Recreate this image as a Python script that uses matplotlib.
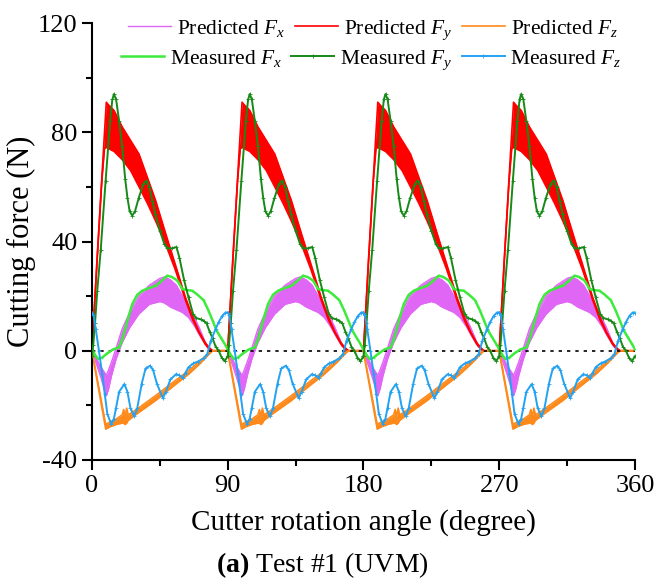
import numpy as np
import matplotlib
matplotlib.use("Agg")
import matplotlib.pyplot as plt

# ============================================
# DATA (one tooth period, 0-90 deg, repeated for 4 teeth)
# ============================================

teeth_offsets = [0, 90, 180, 270]

# Predicted Fx band (upper / lower envelope)
pfx_theta = [0, 3, 6, 9.5, 11, 13, 16, 20, 25, 31, 38, 45, 48, 52, 56, 60, 64, 68, 71, 76, 79, 90]
pfx_upper = [0, -3, -6, -9, -7, -4, 1, 8, 14, 20, 24, 26.5, 27, 26, 24, 20, 16, 12, 8.6, 2, 0, 0]
pfx_lower = [0, -5, -10, -16.5, -14, -9, -3, 3, 8.5, 13.4, 17, 18, 17.5, 16, 15, 14, 12.2, 9, 6, 1.5, 0, 0]

# Predicted Fy band
pfy_theta = [0, 3.5, 6.5, 8.3, 9.5, 11, 14.6, 20, 25.6, 31.2, 36.7, 42.2, 48.8, 55, 62, 67, 71, 75, 78, 80, 90]
pfy_upper = [0, 35, 63, 80, 91, 90, 88, 82, 77, 72, 63.5, 55, 43, 32, 19.5, 12, 7, 3, 1, 0, 0]
pfy_lower = [0, 34, 62, 74, 74.5, 74, 73, 70, 66, 60, 54, 47.5, 39, 30, 18.5, 11, 6.5, 2.5, 0.5, 0, 0]

# Predicted Fz band
pfz_theta = [0, 9.1, 12, 16, 20, 21, 22, 23, 24, 30, 42, 55, 64, 72, 78, 80, 90]
pfz_upper = [0, -27, -26, -25, -23.5, -21.5, -24, -21, -23.5, -21.3, -16.5, -11, -7.3, -3.5, -0.5, 0, 0]
pfz_lower = [-0.5, -28.7, -27.8, -27, -26.5, -26.5, -27, -26.5, -25.5, -23, -18.3, -12.5, -8.6, -4.5, -1, 0, 0]

# Measured Fx
mfx_theta = [0, 2, 4, 6.8, 10, 14, 17.9, 20, 22.3, 24.5, 26.7, 30, 33.4, 38, 42.2, 46, 49.9, 53, 56.6,
             59.9, 63, 66.5, 70, 74, 77, 80, 82.5, 85.3, 88, 90]
mfx_force = [0.5, -1.5, -3, -2.5, -1, 0.5, 1.2, 4, 8.6, 13, 17.1, 20.5, 22, 23, 23.8, 25.5, 27.5, 27, 25.7,
             22.6, 22.2, 22, 20.5, 18.5, 15, 11, 7.5, 4.9, 2.5, 0.5]

# Measured Fy
mfy_theta = [0, 0.8, 2, 3.5, 5.8, 9, 12, 13.5, 14.6, 16, 18, 20, 22, 23.5, 25, 26.7, 28.5, 31, 34, 36,
             38, 40, 42, 45, 48, 50, 53, 56, 58, 61, 64, 67, 69, 72, 74, 76, 78, 80, 82, 84, 86, 88, 90]
mfy_force = [-2, 2, 10, 22, 37, 62, 84, 92, 94, 92, 84, 75, 63, 56, 51, 49.5, 51, 56, 61, 62.3,
             60, 55, 50, 44, 39, 37.5, 37.5, 38, 34, 26, 19.5, 13.5, 12, 11.5, 11, 10, 7, 4.5, 1.5, 0, -2.5, -3.8, -2]

# Measured Fz
mfz_theta = [0, 1, 2.5, 4.6, 6.8, 8.5, 10.2, 12.8, 14.5, 16, 18, 21.5, 23.5, 25.5, 28, 30, 33, 35.5, 38.5,
             40.5, 43, 47, 49, 52, 55.8, 58, 60.2, 62, 64, 67.3, 70, 74, 76.4, 78.8, 82, 84, 86.4, 88.5, 90]
mfz_force = [14, 13, 8, 0, -8.6, -16, -23.2, -26.8, -25, -20.8, -15, -12.2, -15, -21, -24, -21, -12, -6.5, -5.5,
             -7, -12, -17.4, -15, -10.5, -8.6, -9, -10, -8, -6, -4.6, -4, -2.8, -1.2, 3.7, 8, 10.5, 12.8, 14, 14]

x_ticks = [0, 90, 180, 270, 360]
y_ticks = [-40, 0, 40, 80, 120]

# ============================================
# STYLE
# ============================================

plt.rcParams['font.family'] = ['Liberation Serif', 'DejaVu Serif']
plt.rcParams['mathtext.fontset'] = 'custom'
plt.rcParams['mathtext.rm'] = 'Liberation Serif'
plt.rcParams['mathtext.it'] = 'Liberation Serif:italic'
plt.rcParams['mathtext.bf'] = 'Liberation Serif:bold'
plt.rcParams['axes.unicode_minus'] = False

c_pfx = '#E066F5'
c_pfy = '#FF0000'
c_pfz = '#FF8A1C'
c_mfx = '#3CEB3C'
c_mfy = '#168A16'
c_mfz = '#22A2F2'

fig = plt.figure(figsize=(6.58, 5.83), dpi=100)
ax = fig.add_axes([0.1398, 0.211, 0.8252, 0.7495])

# ============================================
# PLOT
# ============================================

handles = {}
for off in teeth_offsets:
    t = np.array(pfx_theta) + off
    ax.fill_between(t, pfx_lower, pfx_upper, color=c_pfx, lw=0, zorder=1)
    h, = ax.plot(t, pfx_upper, color=c_pfx, lw=1, zorder=1)
    ax.plot(t, pfx_lower, color=c_pfx, lw=1, zorder=1)
    handles['pfx'] = h

    t = np.array(pfy_theta) + off
    ax.fill_between(t, pfy_lower, pfy_upper, color=c_pfy, lw=0, zorder=2)
    h, = ax.plot(t, pfy_upper, color=c_pfy, lw=1.2, zorder=2)
    ax.plot(t, pfy_lower, color=c_pfy, lw=1.2, zorder=2)
    handles['pfy'] = h

    t = np.array(pfz_theta) + off
    ax.fill_between(t, pfz_lower, pfz_upper, color=c_pfz, lw=0, zorder=2)
    h, = ax.plot(t, pfz_upper, color=c_pfz, lw=1.2, zorder=2)
    ax.plot(t, pfz_lower, color=c_pfz, lw=1.2, zorder=2)
    handles['pfz'] = h

for off in teeth_offsets:
    h, = ax.plot(np.array(mfx_theta) + off, mfx_force, color=c_mfx, lw=1.8, zorder=3,
                 marker='+', ms=1.5, mew=0.5)
    handles['mfx'] = h
    h, = ax.plot(np.array(mfy_theta) + off, mfy_force, color=c_mfy, lw=1.4, zorder=4,
                 marker='+', ms=2.5, mew=0.6)
    handles['mfy'] = h
    h, = ax.plot(np.array(mfz_theta) + off, mfz_force, color=c_mfz, lw=1.4, zorder=5,
                 marker='+', ms=2.5, mew=0.6)
    handles['mfz'] = h

# zero line
ax.axhline(0, color='black', ls=(0, (2, 3)), lw=1.2, zorder=2.5)

# ============================================
# AXES
# ============================================

ax.set_xlim(0, 360)
ax.set_ylim(-40, 120)
ax.set_xticks(x_ticks)
ax.set_yticks(y_ticks)
ax.set_xticks([45, 135, 225, 315], minor=True)
ax.set_yticks([-20, 20, 60, 100], minor=True)
ax.tick_params(axis='both', which='major', direction='out', length=7, width=1.5, labelsize=19)
ax.tick_params(axis='both', which='minor', direction='out', length=4, width=1.5)
ax.spines['top'].set_visible(False)
ax.spines['right'].set_visible(False)
ax.spines['left'].set_linewidth(1.5)
ax.spines['bottom'].set_linewidth(1.5)
ax.set_xlabel('Cutter rotation angle (degree)', fontsize=21, labelpad=9)
ax.set_ylabel('Cutting force (N)', fontsize=22, labelpad=1)

# legend: one row for predicted, one row for measured
leg_kw = dict(ncol=3, loc='center', frameon=False, fontsize=15.5, handlelength=2.0,
              handletextpad=0.27, columnspacing=0.45, borderpad=0, borderaxespad=0)
leg1 = ax.legend([handles['pfx'], handles['pfy'], handles['pfz']],
                 ['Predicted $F_x$', 'Predicted $F_y$', 'Predicted $F_z$'],
                 bbox_to_anchor=(0.518, 0.984), **leg_kw)
ax.add_artist(leg1)
ax.legend([handles['mfx'], handles['mfy'], handles['mfz']],
          ['Measured $F_x$', 'Measured $F_y$', 'Measured $F_z$'],
          bbox_to_anchor=(0.514, 0.916), **leg_kw)

fig.text(0.49, 0.03, r'$\mathbf{(a)}$ Test #1 (UVM)', ha='center', va='center', fontsize=20)

fig.savefig('out.png', dpi=100)
